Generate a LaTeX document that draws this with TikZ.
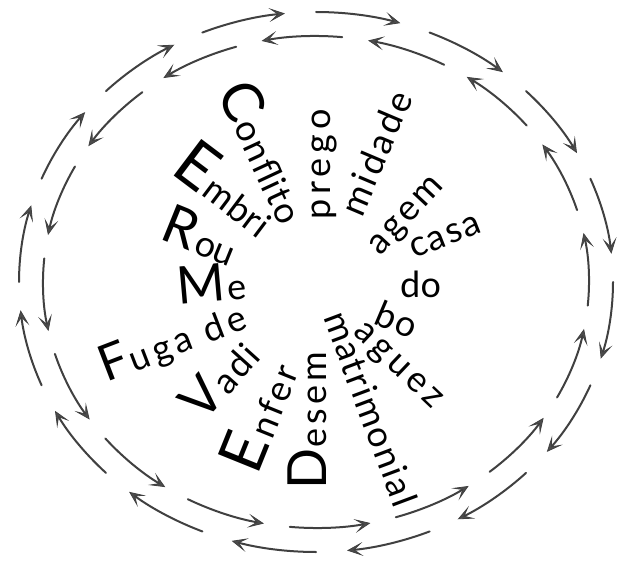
\documentclass[tikz,border=0pt]{standalone}
\usepackage{fontspec}
\setmainfont{Lato}
\newfontfamily\wordfont{Lato}
\usetikzlibrary{arrows.meta}
\newcommand\capx[3][1pt]{\llap{\fontsize{#2}{#2}\selectfont #3\hspace{#1}}}
\newcommand\trk[2]{{\addfontfeature{LetterSpace=#1}#2}}
\tikzset{
  arr/.style={draw=black!75, line width=2pt, line cap=round,
    -{Stealth[length=16pt,width=14pt,inset=8.5pt,fill=black!70,line width=0.8pt]}},
  word/.style={inner sep=0pt, outer sep=0pt, anchor=base west,
    font=\wordfont\fontsize{36}{36}\selectfont, text=black}
}
\begin{document}
\begin{tikzpicture}[x=1pt,y=1pt]
\useasboundingbox (0,0) rectangle (618,-561);
\coordinate (ctr) at (316,-282);
% outer ring, clockwise
\foreach \k in {0,...,15}{
  \pgfmathsetmacro\e{96+22.5*\k}
  \pgfmathsetmacro\s{\e+16.5}
  \draw[arr, shift={(ctr)}] (\s:297 and 270) arc[start angle=\s, end angle=\e, x radius=297, y radius=270];
}
% inner ring, counter-clockwise
\foreach \k in {0,...,15}{
  \pgfmathsetmacro\e{79+22.5*\k}
  \pgfmathsetmacro\s{\e-17}
  \draw[arr, shift={(ctr)}] (\s:273 and 246) arc[start angle=\s, end angle=\e, x radius=273, y radius=246];
}
% words
\node[word, rotate=-65]   (conflito) at (233,-127) {\capx{56}{C}\trk{4}{onflito}};
\node[word, rotate=-69.5] (matrim)   at (323,-317) {\trk{5}{matrimonial}};
\node[word, rotate=90]    (prego)    at (330,-220) {\trk{14}{prego}};
\node[word, rotate=90]    (desem)    at (326,-447) {\capx{54}{D}\trk{11}{esem}};
\node[word, rotate=67]    (midade)   at (362,-219) {\trk{9}{midade}};
\node[word, rotate=68]    (enfer)    at (272,-440) {\capx[4pt]{62}{E}\trk{9}{nfer}};
\node[word, rotate=47]    (agem)     at (380,-256) {\trk{9}{agem}};
\node[word, rotate=48]    (vadi)     at (228,-396) {\capx{53}{V}\trk{7}{adi}};
\node[word, rotate=21]    (fuga)     at (134,-372) {\capx{50}{F}\trk{13}{uga de}};
\node[word, rotate=21.5]  (casa)     at (414,-259) {\trk{5}{casa}};
\node[word, rotate=5]     (me)       at (228,-300) {\capx{52}{M}e};
\node[word, rotate=0]     (do)       at (400,-297) {\trk{1}{do}};
\node[word, rotate=-22]   (rou)      at (192,-252) {\capx[2pt]{54}{R}ou};
\node[word, rotate=-23]   (bo)       at (372,-323) {\trk{7}{bo}};
\node[word, rotate=-37]   (embri)    at (200,-195) {\capx{64}{E}\trk{2}{mbri}};
\node[word, rotate=-43.5] (aguez)    at (352,-333.5) {\trk{13}{aguez}};
\end{tikzpicture}
\end{document}
